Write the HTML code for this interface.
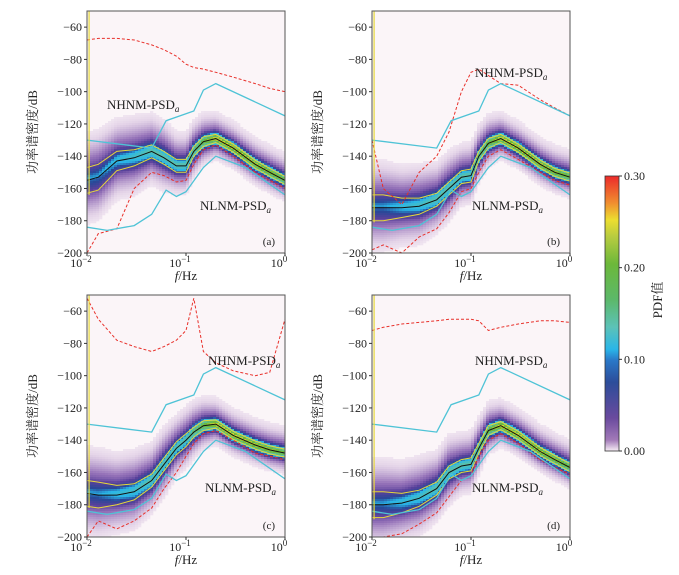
<!DOCTYPE html>
<html><head><meta charset="utf-8">
<style>
html,body{margin:0;padding:0;background:#fff;}
svg{display:block;font-family:"Liberation Serif","Noto Serif CJK SC",serif;}
</style></head>
<body>
<svg id="chart" width="679" height="575" viewBox="0 0 679 575" xmlns="http://www.w3.org/2000/svg">
<defs>
<linearGradient id="cbar" x1="0" y1="1" x2="0" y2="0">
<stop offset="0" stop-color="#f7eef5"/>
<stop offset="0.04" stop-color="#a27ab8"/>
<stop offset="0.12" stop-color="#6a4a9e"/>
<stop offset="0.25" stop-color="#2c4d9a"/>
<stop offset="0.33" stop-color="#2a78c8"/>
<stop offset="0.37" stop-color="#2ab6e8"/>
<stop offset="0.45" stop-color="#5cc2b8"/>
<stop offset="0.55" stop-color="#5cb86a"/>
<stop offset="0.68" stop-color="#6cb83a"/>
<stop offset="0.78" stop-color="#b8cc40"/>
<stop offset="0.84" stop-color="#ecde30"/>
<stop offset="0.9" stop-color="#f09030"/>
<stop offset="1" stop-color="#ec2a2a"/>
</linearGradient>
</defs>
</svg>
<script>
const freqs=[0.01,0.013,0.02,0.03,0.045,0.06,0.08,0.1,0.12,0.15,0.2,0.3,0.5,0.7,1];
const medA=[-155,-153,-143,-141,-137,-141,-146,-146,-137,-131,-129,-135,-145,-150,-155];
const medB=[-172,-172,-172,-171,-167,-160,-153,-152,-140,-132,-129,-135,-145,-150,-153];
const medC=[-173,-174,-174,-172,-165,-155,-145,-140,-135,-131,-130,-137,-143,-146,-148];
const medD=[-180,-180,-179,-176,-170,-160,-156,-155,-145,-134,-131,-137,-147,-152,-157];
const minA=[-200,-188,-185,-160,-150,-152,-156,-155,-145,-136,-133,-140,-150,-155,-160];
const minB=[-198,-195,-200,-190,-185,-175,-162,-160,-150,-140,-136,-142,-150,-155,-158];
const minC=[-200,-190,-195,-190,-182,-170,-160,-150,-142,-136,-134,-140,-148,-150,-152];
const minD=[-200,-200,-198,-192,-185,-175,-165,-162,-150,-140,-136,-142,-152,-157,-161];
const maxA=[-68,-67,-67,-68,-71,-74,-78,-83,-85,-86,-88,-91,-95,-98,-100];
const maxB=[-130,-160,-170,-150,-140,-125,-100,-88,-86,-90,-95,-96,-105,-110,-115];
const maxC=[-52,-65,-78,-82,-85,-82,-78,-72,-52,-85,-92,-97,-100,-98,-65];
const maxD=[-72,-70,-68,-67,-66,-65,-65,-65,-66,-72,-70,-68,-66,-66,-67];
const spread=[4.5,4.5,4,4,3.5,3.5,3,3,2.8,2.5,2.2,2.2,2.2,2.2,2.2];
const peak=[0.045,0.045,0.06,0.07,0.09,0.09,0.09,0.09,0.12,0.15,0.19,0.19,0.18,0.17,0.15];
const band=[8,8,6,5,4,4,4,4,3,3,2.5,2.5,2.5,2.5,2.5];
const nhnmF=[0.01,0.045,0.063,0.12,0.15,0.2,1];
const nhnmV=[-130,-135,-118,-112,-99,-95,-115];
const nlnmF=[0.01,0.016,0.03,0.045,0.063,0.08,0.1,0.15,0.2,0.4,1];
const nlnmV=[-184,-186,-183,-176,-161,-165,-162,-147,-140,-147,-164];
const yTicks=[-60,-80,-100,-120,-140,-160,-180,-200];
const xTicks=[-2,-1,0];
const cbTicks=[0,0.1,0.2,0.3];
const panels=[
 {id:'a',x0:87,y0:11,med:medA,min:minA,max:maxA,hn:[107,109],ln:[200,210]},
 {id:'b',x0:372,y0:11,med:medB,min:minB,max:maxB,hn:[475,77],ln:[472,210]},
 {id:'c',x0:87,y0:295,med:medC,min:minC,max:maxC,hn:[208,365],ln:[205,492]},
 {id:'d',x0:372,y0:295,med:medD,min:minD,max:maxD,hn:[475,365],ln:[472,492]}
];
const W=198,H=242;
const NS='http://www.w3.org/2000/svg';
const svg=document.getElementById('chart');
function mk(t,a,p){const e=document.createElementNS(NS,t);for(const k in a)e.setAttribute(k,a[k]);(p||svg).appendChild(e);return e;}
function interp(fx,fy,f){const l=Math.log10(f);for(let i=0;i<fx.length-1;i++){const a=Math.log10(fx[i]),b=Math.log10(fx[i+1]);if(l<=b){const t=(l-a)/(b-a);return fy[i]+t*(fy[i+1]-fy[i]);}}return fy[fy.length-1];}
function cmap(v){
 const st=[[0,[251,244,248]],[0.01,[228,212,232]],[0.03,[150,115,185]],[0.05,[90,65,155]],[0.08,[40,72,152]],[0.1,[42,182,232]],[0.14,[92,194,170]],[0.2,[108,184,58]],[0.25,[236,222,48]],[0.3,[236,42,42]]];
 v=Math.max(0,Math.min(0.3,v));
 for(let i=0;i<st.length-1;i++){if(v<=st[i+1][0]){const t=(v-st[i][0])/(st[i+1][0]-st[i][0]);const a=st[i][1],b=st[i+1][1];return 'rgb('+a.map((c,k)=>Math.round(c+t*(b[k]-c))).join(',')+')';}}
 return 'rgb(236,42,42)';
}
panels.forEach(p=>{
 const xs=f=>p.x0+(Math.log10(f)+2)/2*W;
 const ys=db=>p.y0+(-50-db)/150*H;
 const g=mk('g',{});
 
 
 mk('rect',{x:p.x0,y:p.y0,width:W,height:H,fill:'#fbf5f8'},g);
 const hm=mk('g',{},g);
 
 
 const cw=3,rh=2;
 for(let cx=0;cx<W;cx+=cw){
  const f=Math.pow(10,-2+(cx+cw/2)/W*2);
  const m=interp(freqs,p.med,f),s=interp(freqs,spread,f),pk=interp(freqs,peak,f);
  for(let ry=0;ry<H;ry+=rh){
   const db=-50-(ry+rh/2)/H*150;const d=db-m;
   const s2=s*3;
   let v=pk*Math.exp(-d*d/(2*s*s))+0.04*Math.exp(-d*d/(2*s2*s2));
   if(d>0)v+=0.012*Math.exp(-d/15);
   if(v<0.005)continue;
   const r=mk('rect',{x:p.x0+cx,y:p.y0+ry,width:cw+0.3,height:rh+0.3,fill:cmap(v)},hm);
   
   
  }
 }
 const line=(fx,fy,attrs,name)=>{const pts=fx.map((f,i)=>xs(f).toFixed(1)+','+ys(fy[i]).toFixed(1)).join(' ');const e=mk('polyline',Object.assign({points:pts,fill:'none'},attrs),g);return e;};
 line(freqs,p.med.map((v,i)=>v+band[i]),{stroke:'#e6d83a','stroke-width':1},'p90-line');
 line(freqs,p.med.map((v,i)=>v-band[i]),{stroke:'#e6d83a','stroke-width':1},'p10-line');
 line(freqs,p.med,{stroke:'#111','stroke-width':1},'median-line');
 line(freqs,p.min,{stroke:'#e8302a','stroke-width':1,'stroke-dasharray':'3,2'},'min-line');
 line(freqs,p.max,{stroke:'#e8302a','stroke-width':1,'stroke-dasharray':'3,2'},'max-line');
 line(nhnmF,nhnmV,{stroke:'#4ec3d6','stroke-width':1.3},'nhnm-line');
 line(nlnmF,nlnmV,{stroke:'#4ec3d6','stroke-width':1.3},'nlnm-line');
 const yl=mk('line',{x1:xs(0.0105),y1:p.y0,x2:xs(0.0105),y2:ys(p.med[0]-9),stroke:'#e6d83a','stroke-width':1.2},g);
 
 
 mk('rect',{x:p.x0,y:p.y0,width:W,height:H,fill:'none',stroke:'#555','stroke-width':1},g);
 yTicks.forEach(t=>{const y=ys(t);mk('line',{x1:p.x0-3,y1:y,x2:p.x0,y2:y,stroke:'#333'},g);
  const tx=mk('text',{x:p.x0-5,y:y+4,'text-anchor':'end','font-size':12,fill:'#222'},g);tx.textContent='\u2212'+Math.abs(t);
  });
 xTicks.forEach(t=>{const x=xs(Math.pow(10,t));mk('line',{x1:x,y1:p.y0+H,x2:x,y2:p.y0+H+3,stroke:'#333'},g);
  const tx=mk('text',{x:x-6,y:p.y0+H+14,'text-anchor':'middle','font-size':12,fill:'#222'},g);
  tx.textContent='10';const sp=mk('tspan',{dy:-5,'font-size':9},tx);sp.textContent=(t<0?'\u2212':'')+Math.abs(t);
  });
 const xl=mk('text',{x:p.x0+W/2,y:p.y0+H+27,'text-anchor':'middle','font-size':13,fill:'#222'},g);
 xl.innerHTML='<tspan font-style="italic">f</tspan>/Hz';
 
 const yt=mk('text',{x:0,y:0,transform:'translate('+(p.x0-50)+','+(p.y0+H/2)+') rotate(-90)','text-anchor':'middle','font-size':13,fill:'#222'},g);
 yt.textContent='功率谱密度/dB';
 
 const h1=mk('text',{x:p.hn[0],y:p.hn[1],'font-size':13,fill:'#222'},g);
 h1.innerHTML='NHNM-PSD<tspan font-size="9" font-style="italic" dy="3">a</tspan>';
 
 const l1=mk('text',{x:p.ln[0],y:p.ln[1],'font-size':13,fill:'#222'},g);
 l1.innerHTML='NLNM-PSD<tspan font-size="9" font-style="italic" dy="3">a</tspan>';
 
 const pl=mk('text',{x:p.x0+W-10,y:p.y0+H-8,'text-anchor':'end','font-size':11,fill:'#222'},g);
 pl.textContent='('+p.id+')';
 
});
const cb=mk('g',{});


const cbY0=176,cbH=275;
mk('rect',{x:605,y:cbY0,width:14,height:cbH,fill:'url(#cbar)',stroke:'#333','stroke-width':0.8},cb);
cbTicks.forEach(t=>{const y=cbY0+cbH-(t/0.3)*cbH;mk('line',{x1:619,y1:y,x2:622,y2:y,stroke:'#333'},cb);
 const tx=mk('text',{x:624,y:y+4,'font-size':12,fill:'#222'},cb);tx.textContent=t.toFixed(2);
 });
const ct=mk('text',{x:0,y:0,transform:'translate(662,300) rotate(-90)','text-anchor':'middle','font-size':13,fill:'#222'},cb);
ct.textContent='PDF值';

</script>
</body></html>
